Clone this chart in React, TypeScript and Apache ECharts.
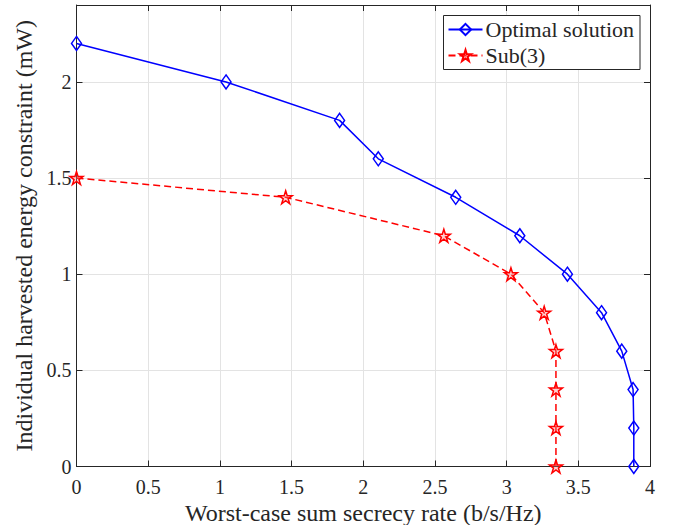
import React, { useEffect, useRef } from "react";
import * as echarts from "echarts";

const optimalX = [0, 1.043, 1.835, 2.105, 2.645, 3.092, 3.424, 3.662, 3.803, 3.882, 3.887, 3.887];
const optimalY = [2.2, 2.0, 1.8, 1.6, 1.4, 1.2, 1.0, 0.8, 0.6, 0.4, 0.2, 0];
const subX = [0, 1.459, 2.562, 3.03, 3.262, 3.344, 3.344, 3.344, 3.344];
const subY = [1.5, 1.4, 1.2, 1.0, 0.8, 0.6, 0.4, 0.2, 0];
const seriesNames = ["Optimal solution", "Sub(3)"];
const xTitle = "Worst-case sum secrecy rate (b/s/Hz)";
const yTitle = "Individual harvested energy constraint (mW)";

const STAR =
  "path://M50 0 L61.23 34.55 L97.55 34.55 L68.17 55.9 L79.39 90.45 L50 69.1 L20.61 90.45 L31.83 55.9 L2.45 34.55 L38.77 34.55 Z";

const FONT = "Liberation Serif";
const TEXT = "#262626";
const AXIS = "#262626";
const GRID = "#e3e3e3";

export default function App() {
  const ref = useRef<HTMLDivElement>(null);
  useEffect(() => {
    if (!ref.current) return;
    const chart = echarts.init(ref.current, undefined, { renderer: "svg" });
    const boxAxisCommon = {
      type: "value" as const,
      axisLine: { show: true, onZero: false, lineStyle: { color: AXIS, width: 1 } },
      axisTick: { show: true, inside: true, length: 6, lineStyle: { color: AXIS, width: 1 } },
    };
    chart.setOption({
      animation: false,
      backgroundColor: "#ffffff",
      textStyle: { fontFamily: FONT, color: TEXT },
      grid: {
        left: 76.5,
        right: 30,
        top: 5,
        bottom: 58.5,
        containLabel: false,
        outerBoundsMode: "none",
      },
      legend: {
        orient: "vertical",
        right: 40,
        top: 15.5,
        padding: [3, 6, 3, 4],
        itemGap: 4,
        itemWidth: 34,
        itemHeight: 14,
        backgroundColor: "#ffffff",
        borderColor: AXIS,
        borderWidth: 1,
        borderRadius: 0,
        textStyle: { fontFamily: FONT, fontSize: 22, color: TEXT, padding: [0, 0, 0, -2] },
        data: seriesNames,
      },
      xAxis: [
        {
          ...boxAxisCommon,
          position: "bottom",
          min: 0,
          max: 4,
          interval: 0.5,
          name: xTitle,
          nameLocation: "middle",
          nameGap: 33,
          nameTextStyle: { fontFamily: FONT, fontSize: 24, color: TEXT },
          axisLabel: { fontFamily: FONT, fontSize: 20, color: TEXT, margin: 10 },
          splitLine: { show: true, lineStyle: { color: GRID, width: 1 } },
        },
        {
          ...boxAxisCommon,
          position: "top",
          min: 0,
          max: 4,
          interval: 0.5,
          axisLabel: { show: false },
          splitLine: { show: false },
        },
      ],
      yAxis: [
        {
          ...boxAxisCommon,
          position: "left",
          min: 0,
          max: 2.4,
          interval: 0.5,
          name: yTitle,
          nameLocation: "middle",
          nameGap: 37,
          nameTextStyle: { fontFamily: FONT, fontSize: 24, color: TEXT },
          axisLabel: {
            fontFamily: FONT,
            fontSize: 20,
            color: TEXT,
            margin: 5,
            showMaxLabel: false,
            formatter: (v: number) => (Math.abs(v - 2.4) < 1e-6 ? "" : String(v)),
          },
          splitLine: { show: true, lineStyle: { color: GRID, width: 1 } },
        },
        {
          ...boxAxisCommon,
          position: "right",
          min: 0,
          max: 2.4,
          interval: 0.5,
          axisLabel: { show: false },
          splitLine: { show: false },
        },
      ],
      series: [
        {
          name: seriesNames[0],
          type: "line",
          xAxisIndex: 0,
          yAxisIndex: 0,
          clip: false,
          data: optimalX.map((x, i) => [x, optimalY[i]]),
          symbol: "diamond",
          symbolSize: [10, 14],
          showAllSymbol: true,
          lineStyle: { color: "#0000ff", width: 1.5, type: "solid" },
          itemStyle: { color: "rgba(255,255,255,0)", borderColor: "#0000ff", borderWidth: 1.5 },
          z: 3,
        },
        {
          name: seriesNames[1],
          type: "line",
          xAxisIndex: 0,
          yAxisIndex: 0,
          clip: false,
          data: subX.map((x, i) => [x, subY[i]]),
          symbol: STAR,
          symbolSize: [13, 13],
          showAllSymbol: true,
          lineStyle: { color: "#ff0000", width: 1.5, type: [7, 4] },
          itemStyle: { color: "rgba(255,120,120,0.35)", borderColor: "#ff0000", borderWidth: 1.5 },
          z: 2,
        },
      ],
    });
    return () => chart.dispose();
  }, []);
  return (
    <div
      ref={ref}
      style={{ position: "absolute", left: 0, top: 0, width: 680, height: 525 }}
    />
  );
}
